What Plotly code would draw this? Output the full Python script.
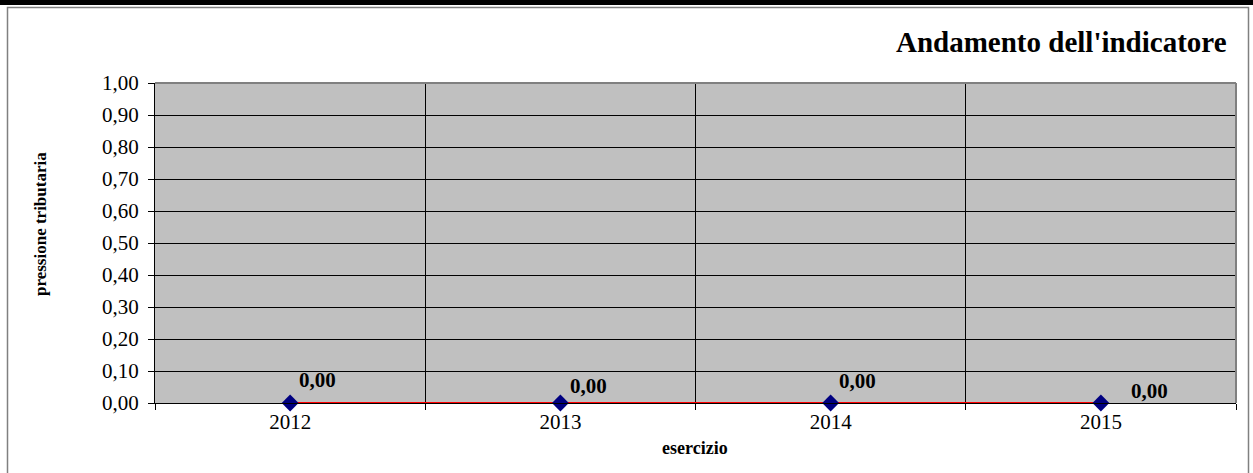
import plotly.graph_objects as go

years = ["2012", "2013", "2014", "2015"]
values = [0.0, 0.0, 0.0, 0.0]
label_texts = ["0,00", "0,00", "0,00", "0,00"]
label_dx = [27, 28, 27, 49]
label_dy = [23, 17, 22, 12]

W, H = 1253, 473
L, R, T, B = 155, 1236, 83, 403

fig = go.Figure()
fig.add_trace(go.Scatter(
    x=years, y=values, mode="lines+markers",
    line=dict(color="#FF0000", width=2),
    marker=dict(symbol="diamond", size=13, color="#000080"),
    showlegend=False, cliponaxis=False,
))

for i, (y, t, dx, dy) in enumerate(zip(values, label_texts, label_dx, label_dy)):
    fig.add_annotation(x=i, y=y, xref="x", yref="y", text="<b>%s</b>" % t, showarrow=False,
                       xshift=dx, yshift=dy,
                       font=dict(family="Liberation Serif", size=21, color="black"))

def px(xp):
    return (xp - L) / (R - L)

def py(yp):
    return (B - yp) / (B - T)

shapes = [
    dict(type="rect", xref="paper", yref="paper", x0=px(0), x1=px(W), y0=py(5), y1=py(-10),
         fillcolor="black", line=dict(width=0), layer="above"),
    dict(type="rect", xref="paper", yref="paper", x0=px(7.5), x1=px(1248.5), y0=py(480), y1=py(7.5),
         line=dict(color="#808080", width=1.5), fillcolor="rgba(0,0,0,0)"),
    dict(type="line", xref="paper", yref="paper", x0=0, x1=1, y0=1, y1=1,
         line=dict(color="#808080", width=2)),
    dict(type="line", xref="paper", yref="paper", x0=1, x1=1, y0=0, y1=1,
         line=dict(color="#808080", width=2)),
]

fig.update_layout(
    width=W, height=H,
    margin=dict(l=L, r=W - R, t=T, b=H - B, pad=0),
    paper_bgcolor="white", plot_bgcolor="#C0C0C0",
    separators=",.",
    font=dict(family="Liberation Serif", size=21, color="black"),
    shapes=shapes,
    showlegend=False,
)
fig.add_annotation(xref="paper", yref="paper", x=px(1229), y=py(42), xanchor="right", yanchor="middle",
                   text="<b>Andamento dell'indicatore</b>", showarrow=False,
                   font=dict(family="Liberation Serif", size=29, color="black"))
fig.add_annotation(xref="paper", yref="paper", x=px(40), y=py(224), xanchor="center", yanchor="middle",
                   text="<b>pressione tributaria</b>", showarrow=False, textangle=-90,
                   font=dict(family="Liberation Serif", size=17, color="black"))
fig.add_annotation(xref="paper", yref="paper", x=px(695), y=py(448), xanchor="center", yanchor="middle",
                   text="<b>esercizio</b>", showarrow=False,
                   font=dict(family="Liberation Serif", size=18, color="black"))

fig.update_xaxes(
    type="category", tickson="boundaries", showgrid=True, gridcolor="black", gridwidth=1,
    showline=True, linecolor="black", linewidth=1, ticks="outside", ticklen=6, tickcolor="black",
    range=[-0.5, 3.5], zeroline=False,
    tickfont=dict(size=21),
)
fig.update_yaxes(
    range=[0, 1], dtick=0.1, tickformat=".2f", showgrid=True, gridcolor="black", gridwidth=1,
    showline=True, linecolor="black", linewidth=1, ticks="outside", ticklen=6, tickcolor="black",
    zeroline=False, ticklabelstandoff=5,
    tickfont=dict(size=21),
)

fig.write_html("out.html")
